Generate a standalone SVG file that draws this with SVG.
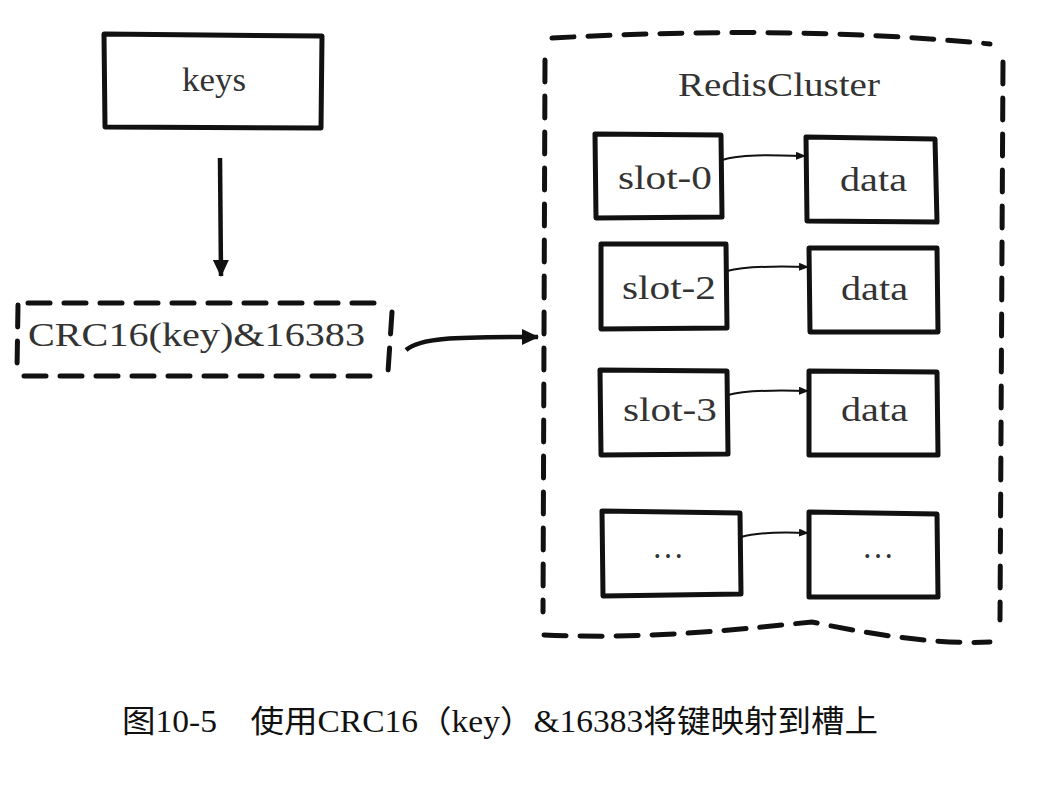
<svg xmlns="http://www.w3.org/2000/svg" width="1058" height="800" viewBox="0 0 1058 800">
<style>
.box{fill:none;stroke:#111;stroke-width:5;stroke-linejoin:round}
.dash{fill:none;stroke:#111;stroke-width:5;stroke-dasharray:22 14;stroke-linecap:round}
.t{font-family:"Liberation Serif",serif;fill:#333;font-size:34px}
.link{fill:none;stroke:#111;stroke-width:2}
.cap{font-family:"Liberation Serif","Noto Sans CJK SC",serif;fill:#111;font-size:31px}
</style>
<defs>
<marker id="ah" markerWidth="10" markerHeight="8" refX="9" refY="4" orient="auto" markerUnits="userSpaceOnUse">
<path d="M0,0 L10,4 L0,8 z" fill="#111"/>
</marker>
<marker id="ahb" markerWidth="18" markerHeight="18" refX="16" refY="9" orient="auto" markerUnits="userSpaceOnUse">
<path d="M0,1 L17,9 L0,17 z" fill="#111"/>
</marker>
</defs>
<rect width="1058" height="800" fill="#fff"/>
<g id="keys">
<path class="box" d="M104,34 L322,36 L321,128 L105,127 Z"/>
<text class="t" x="182" y="91" textLength="64" lengthAdjust="spacingAndGlyphs">keys</text>
</g>
<g id="crc">
<path class="dash" d="M28,303 L385,303 M24,376 L380,376 M18,305 L17,370 M392,312 L388,372"/>
<text class="t" x="28" y="346" font-size="37" textLength="337" lengthAdjust="spacingAndGlyphs">CRC16(key)&amp;16383</text>
</g>
<g id="cluster">
<path class="dash" d="M552,38 C700,30 850,30 990,44 M545,60 L543,612 M1003,62 L1000,620 M544,635 C650,640 750,628 812,622 C860,632 930,645 990,642"/>
<text class="t" x="678" y="96" textLength="202" lengthAdjust="spacingAndGlyphs">RedisCluster</text>
</g>
<g id="slot0">
<path class="box" d="M595,134 L721,135 L722,217 L596,218 Z"/>
<text class="t" x="618" y="189" textLength="94" lengthAdjust="spacingAndGlyphs">slot-0</text>
</g>
<g id="data0">
<path class="box" d="M806,137 L935,139 L937,222 L807,221 Z"/>
<text class="t" x="840" y="191" textLength="67" lengthAdjust="spacingAndGlyphs">data</text>
</g>
<g id="slot2">
<path class="box" d="M601,244 L726,244 L727,328 L601,329 Z"/>
<text class="t" x="622" y="299" textLength="94" lengthAdjust="spacingAndGlyphs">slot-2</text>
</g>
<g id="data2">
<path class="box" d="M809,248 L937,248 L938,332 L810,332 Z"/>
<text class="t" x="841" y="300" textLength="67" lengthAdjust="spacingAndGlyphs">data</text>
</g>
<g id="slot3">
<path class="box" d="M600,370 L727,371 L728,454 L601,455 Z"/>
<text class="t" x="623" y="421" textLength="94" lengthAdjust="spacingAndGlyphs">slot-3</text>
</g>
<g id="data3">
<path class="box" d="M809,371 L937,372 L938,455 L809,455 Z"/>
<text class="t" x="841" y="421" textLength="67" lengthAdjust="spacingAndGlyphs">data</text>
</g>
<g id="slotn">
<path class="box" d="M602,511 L740,513 L741,594 L603,596 Z"/>
<text class="t" x="652" y="558" textLength="32" lengthAdjust="spacingAndGlyphs">…</text>
</g>
<g id="datan">
<path class="box" d="M809,512 L937,514 L938,597 L809,597 Z"/>
<text class="t" x="862" y="558" textLength="32" lengthAdjust="spacingAndGlyphs">…</text>
</g>
<g id="connectors">
<path d="M220,158 L221,276" fill="none" stroke="#111" stroke-width="4.5" marker-end="url(#ahb)"/>
<path d="M406,350 C420,338 450,337 538,337" fill="none" stroke="#111" stroke-width="4.5" marker-end="url(#ahb)"/>
<path class="link" d="M722,160 C740,154 770,155 805,156" marker-end="url(#ah)"/>
<path class="link" d="M727,271 C745,266 775,266 808,267" marker-end="url(#ah)"/>
<path class="link" d="M728,395 C745,390 775,390 808,391" marker-end="url(#ah)"/>
<path class="link" d="M741,537 C758,532 785,532 808,533" marker-end="url(#ah)"/>
</g>
<text class="cap" x="122" y="732" textLength="756" lengthAdjust="spacingAndGlyphs">图10-5　使用CRC16（key）&amp;16383将键映射到槽上</text>
</svg>
